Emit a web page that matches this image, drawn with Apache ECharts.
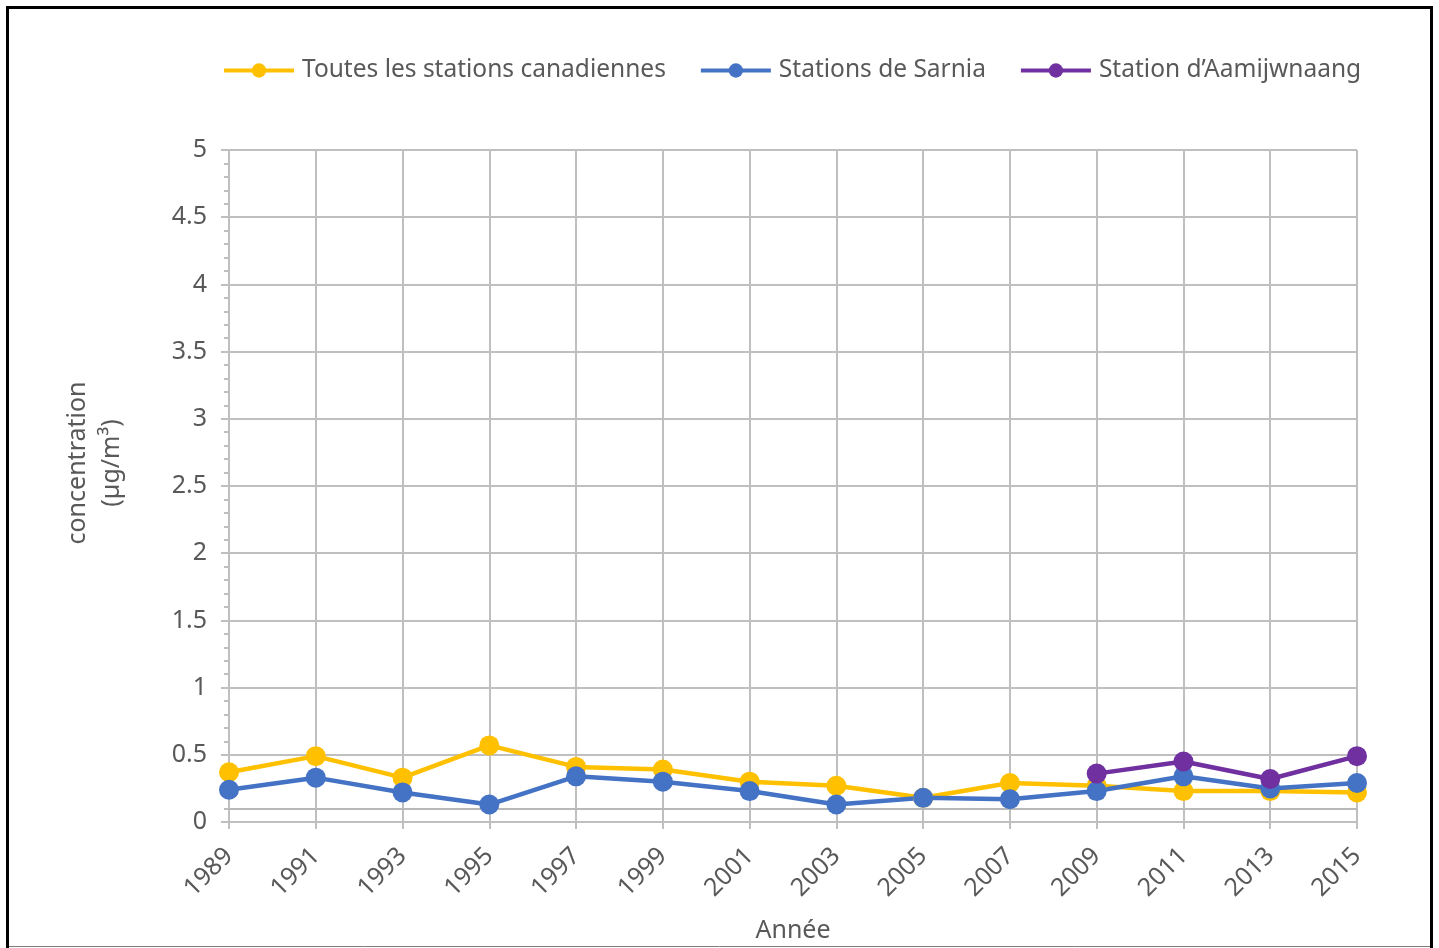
<!DOCTYPE html>
<html>
<head>
<meta charset="utf-8">
<title>Concentration</title>
<script src="https://cdn.jsdelivr.net/npm/echarts@6/dist/echarts.min.js"></script>
<style>
  html, body { margin: 0; padding: 0; background: #fff; overflow: hidden; }
  #chart { width: 1439px; height: 948px; }
</style>
</head>
<body>
<div id="chart"></div>
<script>
const years = ['1989', '1991', '1993', '1995', '1997', '1999', '2001', '2003', '2005', '2007', '2009', '2011', '2013', '2015']
const toutes = [0.37, 0.49, 0.33, 0.57, 0.41, 0.39, 0.30, 0.27, 0.18, 0.29, 0.27, 0.23, 0.23, 0.22]
const sarnia = [0.24, 0.33, 0.22, 0.13, 0.34, 0.30, 0.23, 0.13, 0.18, 0.17, 0.23, 0.34, 0.25, 0.29]
const aamjiwnaang = [null, null, null, null, null, null, null, null, null, null, 0.36, 0.45, 0.32, 0.49]
const extraGridLine = 0.1

const names = ['Toutes les stations canadiennes', 'Stations de Sarnia', 'Station d\u2019Aamijwnaang']
const colors = ['#FFC000', '#4472C4', '#7030A0']
const font = '"Noto Sans", "Open Sans", sans-serif'
const textColor = '#595959'
const gridColor = '#bfbfbf'

const chart = echarts.init(document.getElementById('chart'))

const mkSeries = (name, data, color) => ({
  name,
  type: 'line',
  data,
  symbol: 'circle',
  symbolSize: 20,
  connectNulls: false,
  lineStyle: { width: 4.5, color },
  itemStyle: { color },
  emphasis: { disabled: true },
  z: 3
})

chart.setOption({
  animation: false,
  textStyle: { fontFamily: font },
  color: colors,
  legend: {
    top: 58,
    left: 222,
    padding: 0,
    itemWidth: 70,
    itemHeight: 18,
    itemGap: 33,
    lineStyle: { width: 4 },
    textStyle: { fontSize: 24.5, color: textColor, fontFamily: font, padding: [0, 0, 0, 3] },
    data: names
  },
  grid: { left: 229, right: 82, top: 150, bottom: 126, containLabel: false, outerBoundsMode: 'none' },
  xAxis: {
    type: 'category',
    data: years,
    boundaryGap: false,
    name: 'Année',
    nameLocation: 'middle',
    nameGap: 96,
    nameTextStyle: { fontSize: 25, color: textColor },
    axisLine: { show: true, lineStyle: { color: gridColor, width: 2 } },
    axisTick: { show: true, length: 7, lineStyle: { color: gridColor, width: 2 } },
    axisLabel: { rotate: 45, fontSize: 25, color: textColor, margin: 30 },
    splitLine: { show: true, lineStyle: { color: gridColor, width: 2 } }
  },
  yAxis: {
    type: 'value',
    min: 0,
    max: 5,
    interval: 0.5,
    name: 'concentration\n(µg/m³)',
    nameLocation: 'middle',
    nameGap: 100,
    nameRotate: 90,
    nameTextStyle: { fontSize: 25, color: textColor, lineHeight: 34, padding: [0, 0, 0, 46] },
    axisLine: { show: true, lineStyle: { color: gridColor, width: 2 } },
    axisTick: { show: true, length: 8, lineStyle: { color: gridColor, width: 2 } },
    minorTick: { show: true, splitNumber: 5, length: 5, lineStyle: { color: gridColor, width: 2 } },
    axisLabel: { fontSize: 25, color: textColor, margin: 22 },
    splitLine: { show: true, lineStyle: { color: gridColor, width: 2 } }
  },
  series: [
    mkSeries(names[0], toutes, colors[0]),
    mkSeries(names[1], sarnia, colors[1]),
    mkSeries(names[2], aamjiwnaang, colors[2])
  ]
})

// frame + extra horizontal rule near the bottom, placed through the axis scales
const p0 = chart.convertToPixel({ xAxisIndex: 0, yAxisIndex: 0 }, [0, extraGridLine])
const p1 = chart.convertToPixel({ xAxisIndex: 0, yAxisIndex: 0 }, [years.length - 1, extraGridLine])
const ruleY = Math.round(p0[1])
chart.setOption({
  graphic: [{
    id: 'rule01',
    type: 'rect',
    shape: { x: p0[0], y: ruleY - 1, width: p1[0] - p0[0], height: 2 },
    style: { fill: '#b8b8b8', stroke: 'none' },
    z: 1,
    silent: true
  }, {
    id: 'frame',
    type: 'rect',
    shape: { x: 7.5, y: 7.5, width: 1424, height: 950 },
    style: { fill: 'none', stroke: '#000', lineWidth: 3 },
    silent: true
  }, {
    id: 'bottomEdge',
    type: 'line',
    shape: { x1: 9, y1: 946.5, x2: 1430, y2: 946.5 },
    style: { stroke: '#7f7f7f', lineWidth: 1 },
    silent: true
  }]
})
</script>
</body>
</html>
